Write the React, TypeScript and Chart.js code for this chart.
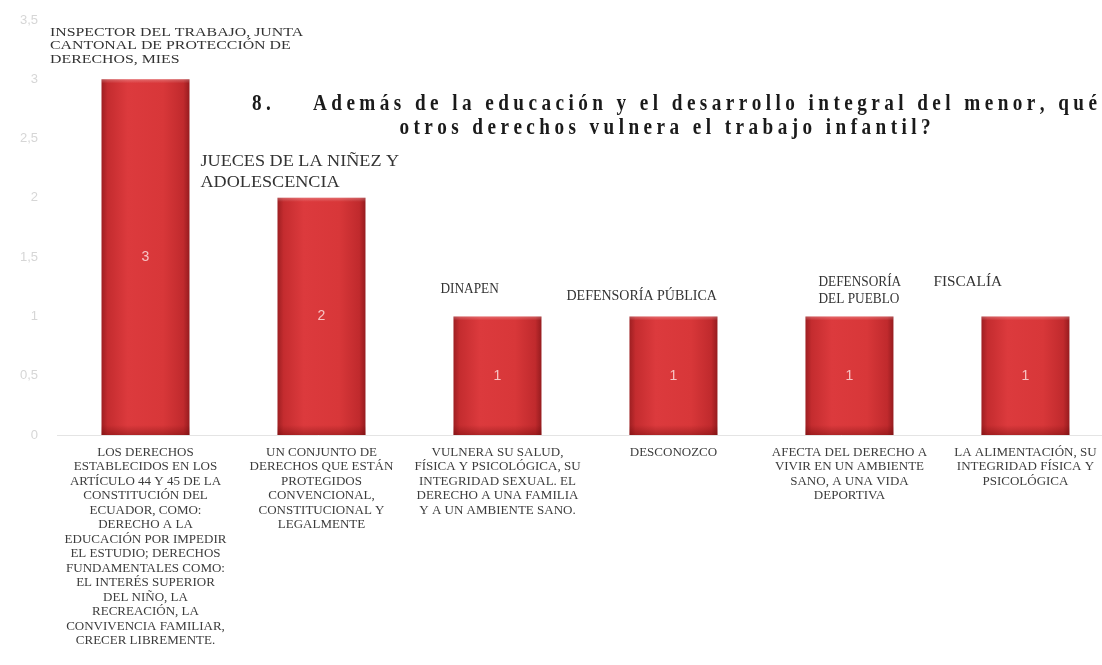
import React, { useEffect, useRef } from "react";
import { Chart, registerables } from "chart.js";

Chart.register(...registerables);

// ---------- data ----------
const categoryLabels: string[][] = [
  [
    "LOS DERECHOS",
    "ESTABLECIDOS EN LOS",
    "ARTÍCULO 44 Y 45 DE LA",
    "CONSTITUCIÓN DEL",
    "ECUADOR, COMO:",
    "DERECHO A LA",
    "EDUCACIÓN POR IMPEDIR",
    "EL ESTUDIO; DERECHOS",
    "FUNDAMENTALES COMO:",
    "EL INTERÉS SUPERIOR",
    "DEL NIÑO, LA",
    "RECREACIÓN, LA",
    "CONVIVENCIA FAMILIAR,",
    "CRECER LIBREMENTE.",
  ],
  [
    "UN CONJUNTO DE",
    "DERECHOS QUE ESTÁN",
    "PROTEGIDOS",
    "CONVENCIONAL,",
    "CONSTITUCIONAL Y",
    "LEGALMENTE",
  ],
  [
    "VULNERA SU SALUD,",
    "FÍSICA Y PSICOLÓGICA, SU",
    "INTEGRIDAD SEXUAL. EL",
    "DERECHO A UNA FAMILIA",
    "Y A UN AMBIENTE SANO.",
  ],
  ["DESCONOZCO"],
  ["AFECTA DEL DERECHO A", "VIVIR EN UN AMBIENTE", "SANO, A UNA VIDA", "DEPORTIVA"],
  ["LA ALIMENTACIÓN, SU", "INTEGRIDAD FÍSICA Y", "PSICOLÓGICA"],
];

const institutions: string[][] = [
  ["INSPECTOR DEL TRABAJO, JUNTA", "CANTONAL DE PROTECCIÓN DE", "DERECHOS, MIES"],
  ["JUECES DE LA NIÑEZ Y", "ADOLESCENCIA"],
  ["DINAPEN"],
  ["DEFENSORÍA PÚBLICA"],
  ["DEFENSORÍA", "DEL PUEBLO"],
  ["FISCALÍA"],
];

const values: number[] = [3, 2, 1, 1, 1, 1];

const yMin = 0;
const yMax = 3.5;
const yStep = 0.5;

const titleNumber = "8.";
const titleLines: string[] = [
  "Además de la educación y el desarrollo integral del menor, qué",
  "otros derechos vulnera el trabajo infantil?",
];

// ---------- styles / layout ----------
const W = 1102;
const H = 665;
const BAR_PCT = 0.5;
const SERIF = "'Liberation Serif', 'Times New Roman', serif";

// per-institution label placement relative to bar (center x, top y); sx = horizontal stretch
const instStyle = [
  { dx: -95.5, dy: -47, size: 13, lh: 13.5, sx: 1.22 },
  { dx: -121, dy: -36, size: 16.5, lh: 21, sx: 1.1 },
  { dx: -57, dy: -27, size: 14, lh: 17, sx: 0.95 },
  { dx: -107, dy: -20, size: 14, lh: 17, sx: 1.0 },
  { dx: -31, dy: -34, size: 14, lh: 17, sx: 0.95 },
  { dx: -92, dy: -34, size: 14.5, lh: 17, sx: 1.05 },
];

const titleStyle = {
  numberX: 252,
  line1X: 313,
  line1Right: 1097,
  line1Y: 104,
  line2Center: 665,
  line2Y: 128,
  font: `bold 24px ${SERIF}`,
  sx: 0.8,
  color: "#1a1a1a",
};

function drawSpaced(
  ctx: CanvasRenderingContext2D,
  text: string,
  x: number,
  y: number,
  spacing: number,
  sx: number
) {
  let cx = x;
  for (const ch of Array.from(text)) {
    ctx.save();
    ctx.translate(cx, y);
    ctx.scale(sx, 1);
    ctx.fillText(ch, 0, 0);
    ctx.restore();
    cx += ctx.measureText(ch).width * sx + spacing;
  }
}
function spacedWidth(ctx: CanvasRenderingContext2D, text: string, spacing: number, sx: number) {
  const chars = Array.from(text);
  let w = 0;
  for (const ch of chars) w += ctx.measureText(ch).width * sx;
  return w + spacing * (chars.length - 1);
}

const fin = (...n: number[]) => n.every((v) => Number.isFinite(v));

const decorPlugin = {
  id: "decor",
  afterDatasetsDraw(chart: any) {
    const ctx: CanvasRenderingContext2D = chart.ctx;
    const meta = chart.getDatasetMeta(0);
    ctx.save();
    meta.data.forEach((el: any, i: number) => {
      const { x, y, base, width } = el.getProps(["x", "y", "base", "width"], true);
      if (!fin(x, y, base, width)) return;
      const left = x - width / 2;
      const h = base - y;
      if (h > 1) {
        const g = ctx.createLinearGradient(0, y, 0, base);
        g.addColorStop(0, "rgba(255,255,255,0.25)");
        g.addColorStop(Math.min(0.5, 4 / h), "rgba(255,255,255,0)");
        g.addColorStop(Math.max(0.5, 1 - 10 / h), "rgba(90,0,0,0)");
        g.addColorStop(1, "rgba(90,0,0,0.35)");
        ctx.fillStyle = g;
        ctx.fillRect(left, y, width, h);
      }

      // value label
      ctx.fillStyle = "#f7c4c4";
      ctx.font = `14px 'Liberation Sans', Arial, sans-serif`;
      ctx.textAlign = "center";
      ctx.textBaseline = "middle";
      ctx.fillText(String(values[i]), x, (y + base) / 2);

      // institution label
      const st = instStyle[i];
      ctx.fillStyle = "#333333";
      ctx.font = `${st.size}px ${SERIF}`;
      ctx.textAlign = "left";
      institutions[i].forEach((line, k) => {
        ctx.save();
        ctx.translate(x + st.dx, y + st.dy + k * st.lh);
        ctx.scale(st.sx, 1);
        ctx.fillText(line, 0, 0);
        ctx.restore();
      });
    });

    // title
    ctx.fillStyle = titleStyle.color;
    ctx.font = titleStyle.font;
    ctx.textAlign = "left";
    ctx.textBaseline = "middle";
    const sx = titleStyle.sx;
    const natural = spacedWidth(ctx, titleLines[0], 0, sx);
    const n = Array.from(titleLines[0]).length;
    const spacing = (titleStyle.line1Right - titleStyle.line1X - natural) / (n - 1);
    drawSpaced(ctx, titleNumber, titleStyle.numberX, titleStyle.line1Y, spacing, sx);
    drawSpaced(ctx, titleLines[0], titleStyle.line1X, titleStyle.line1Y, spacing, sx);
    const w2 = spacedWidth(ctx, titleLines[1], spacing, sx);
    drawSpaced(ctx, titleLines[1], titleStyle.line2Center - w2 / 2, titleStyle.line2Y, spacing, sx);
    ctx.restore();
  },
};

export default function App() {
  const canvasRef = useRef<HTMLCanvasElement | null>(null);

  useEffect(() => {
    const canvas = canvasRef.current;
    if (!canvas) return;
    const chart = new Chart(canvas, {
      type: "bar",
      data: {
        datasets: [
          {
            data: values.map((v, i) => ({ x: i, y: v })),
            barPercentage: BAR_PCT,
            categoryPercentage: 1,
            borderWidth: 0,
            backgroundColor: (c: any) => {
              const ch = c.chart;
              const xs = ch.scales?.x;
              if (!xs || !c.raw) return "#d43437";
              const cx = xs.getPixelForValue(c.raw.x);
              const w = (xs.getPixelForValue(1) - xs.getPixelForValue(0)) * BAR_PCT;
              if (!fin(cx, w) || w <= 0) return "#d43437";
              const g = ch.ctx.createLinearGradient(cx - w / 2, 0, cx + w / 2, 0);
              g.addColorStop(0, "#9e1f22");
              g.addColorStop(0.07, "#c42c2f");
              g.addColorStop(0.3, "#dc3a3d");
              g.addColorStop(0.7, "#d83739");
              g.addColorStop(0.93, "#c02a2d");
              g.addColorStop(1, "#961c1f");
              return g;
            },
          },
        ],
      },
      options: {
        animation: false,
        responsive: true,
        maintainAspectRatio: false,
        layout: { padding: { top: 20, left: 0, right: 0, bottom: 0 } },
        plugins: {
          legend: { display: false },
          tooltip: { enabled: false },
          title: { display: false },
        },
        scales: {
          x: {
            type: "linear",
            offset: false,
            min: -0.5,
            max: 5.435,
            grid: { display: false, drawTicks: false },
            border: { display: true, color: "#e4e4e4", width: 1 },
            afterBuildTicks: (scale: any) => {
              scale.ticks = categoryLabels.map((_, i) => ({ value: i }));
            },
            afterFit: (scale: any) => {
              scale.height = H - 435;
              scale.paddingLeft = 0;
              scale.paddingRight = 0;
            },
            ticks: {
              autoSkip: false,
              maxRotation: 0,
              minRotation: 0,
              padding: 10,
              color: "#3c3c3c",
              font: { family: SERIF, size: 13, lineHeight: 1.115 },
              callback: (v: any) => categoryLabels[v as number] ?? "",
            },
          },
          y: {
            min: yMin,
            max: yMax,
            grid: { display: false, drawTicks: false },
            border: { display: false },
            afterFit: (scale: any) => {
              scale.width = 57.5;
              scale.paddingTop = 0;
              scale.paddingBottom = 0;
            },
            ticks: {
              stepSize: yStep,
              padding: 19.5,
              color: "#d6d6d6",
              font: { family: "'Liberation Sans', Arial, sans-serif", size: 13 },
              callback: (v: any) => String(v).replace(".", ","),
            },
          },
        },
      } as any,
      plugins: [decorPlugin],
    });
    return () => chart.destroy();
  }, []);

  return (
    <div style={{ position: "absolute", left: 0, top: 0, width: W, height: H, background: "#fff" }}>
      <canvas ref={canvasRef} />
    </div>
  );
}
